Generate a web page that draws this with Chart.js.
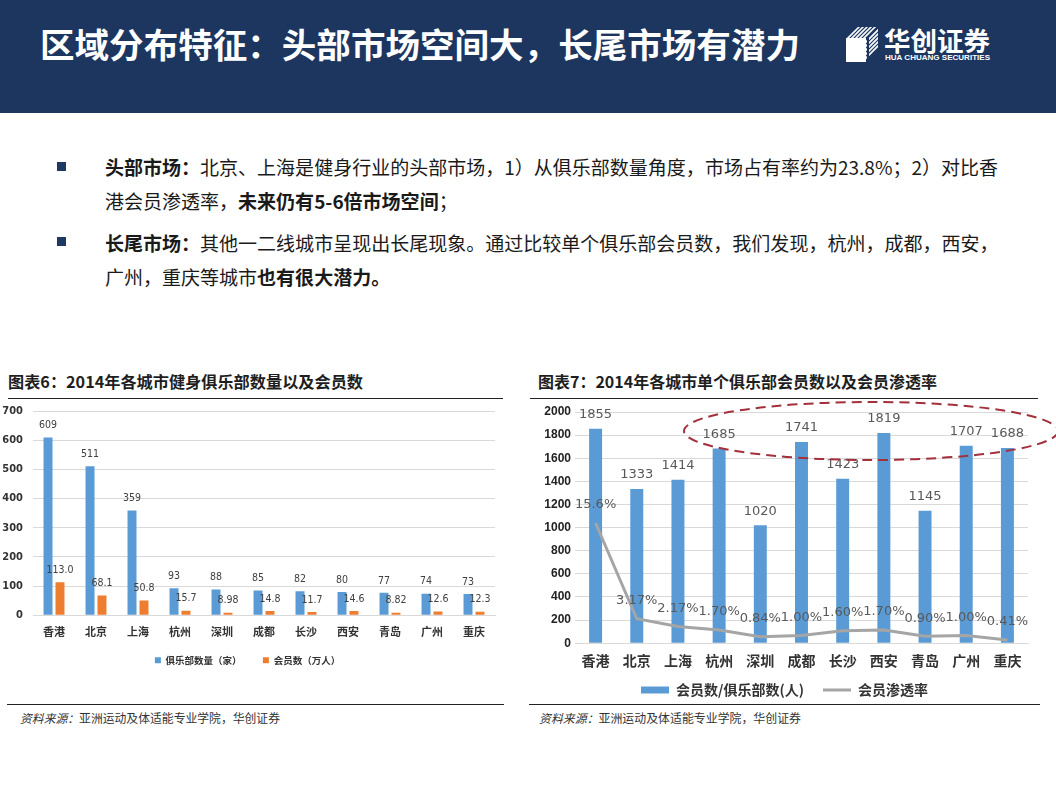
<!DOCTYPE html>
<html><head><meta charset="utf-8">
<script src="https://cdn.jsdelivr.net/npm/chart.js@4/dist/chart.umd.min.js"></script>
<style>
html,body{margin:0;padding:0;width:1056px;height:792px;overflow:hidden;background:#fff;font-family:"Noto Sans CJK SC","Noto Sans",sans-serif;}
.abs{position:absolute;white-space:nowrap;}
#header{position:absolute;left:0;top:0;width:1056px;height:113px;background:#1c3660;}
#title{left:40px;top:22px;font-size:34px;font-weight:700;color:#fff;line-height:44px;}
.body{left:105px;font-size:19px;color:#1a1a1a;line-height:24px;}
.body b{font-weight:700;}
.bullet{position:absolute;left:57px;width:9px;height:9px;background:#1f3864;}
.ctitle{font-size:16px;font-weight:700;color:#1e1e1e;line-height:24px;}
.rule{position:absolute;height:1.5px;background:#222;}
.src{font-size:12px;color:#333;line-height:16px;}
.cbox{position:absolute;}
</style>
</head><body>
<div id="header"></div>
<div id="title" class="abs">区域分布特征：头部市场空间大，长尾市场有潜力</div>
<svg class="abs" style="left:0;top:0" width="1056" height="113">
  <defs><clipPath id="cube"><polygon points="846,36 856,27 878,27 878,53 868,62 846,62"/></clipPath></defs>
  <g clip-path="url(#cube)" stroke="#fff" stroke-width="1.6">
    <line x1="840" y1="46" x2="862" y2="24"/><line x1="840" y1="50" x2="866" y2="24"/>
    <line x1="840" y1="54" x2="870" y2="24"/><line x1="840" y1="58" x2="874" y2="24"/>
    <line x1="840" y1="62" x2="878" y2="24"/><line x1="844" y1="64" x2="882" y2="26"/>
    <line x1="848" y1="64" x2="882" y2="30"/><line x1="852" y1="64" x2="882" y2="34"/>
    <line x1="856" y1="64" x2="882" y2="38"/><line x1="860" y1="64" x2="882" y2="42"/>
  </g>
  <rect x="846" y="38" width="20" height="24" fill="#fff"/>
  <line x1="868" y1="38" x2="868" y2="62" stroke="#1c3660" stroke-width="2"/>
</svg>
<div id="logo1" class="abs" style="left:884px;top:22px;font-size:26px;font-weight:700;color:#fff;line-height:36px;">华创证券</div>
<div id="logo2" class="abs" style="left:885px;top:53px;font-size:8px;font-weight:700;color:#fff;line-height:10px;font-family:'Liberation Sans',sans-serif;">HUA CHUANG SECURITIES</div>

<div class="bullet" style="top:162px"></div>
<div class="bullet" style="top:237px"></div>
<div id="l1" class="abs body" style="top:155px"><b>头部市场：</b>北京、上海是健身行业的头部市场，1）从俱乐部数量角度，市场占有率约为23.8%；2）对比香</div>
<div id="l2" class="abs body" style="top:189px">港会员渗透率，<b>未来仍有5-6倍市场空间</b>；</div>
<div id="l3" class="abs body" style="top:231px"><b>长尾市场：</b>其他一二线城市呈现出长尾现象。通过比较单个俱乐部会员数，我们发现，杭州，成都，西安，</div>
<div id="l4" class="abs body" style="top:265px">广州，重庆等城市<b>也有很大潜力。</b></div>

<div id="t1" class="abs ctitle" style="left:8px;top:369px">图表6：2014年各城市健身俱乐部数量以及会员数</div>
<div id="t2" class="abs ctitle" style="left:538px;top:369px">图表7：2014年各城市单个俱乐部会员数以及会员渗透率</div>
<div class="rule" style="left:8px;width:495px;top:397.5px"></div>
<div class="rule" style="left:530px;width:508px;top:397.5px"></div>
<div class="rule" style="left:7px;width:497px;top:703.5px"></div>
<div class="rule" style="left:529px;width:511px;top:703.5px"></div>
<div id="s1" class="abs src" style="left:20px;top:710px"><i>资料来源：</i>亚洲运动及体适能专业学院，华创证券</div>
<div id="s2" class="abs src" style="left:539px;top:710px"><i>资料来源：</i>亚洲运动及体适能专业学院，华创证券</div>

<div class="cbox" style="left:0;top:400px;width:505px;height:275px"><canvas id="c1"></canvas></div>
<div class="cbox" style="left:541px;top:400px;width:528px;height:307px"><canvas id="c2"></canvas></div>

<svg class="abs" style="left:0;top:0;pointer-events:none" width="1056" height="792">
  <ellipse cx="871" cy="431" rx="187" ry="29" fill="none" stroke="#a3303a" stroke-width="2" stroke-dasharray="10 6"/>
</svg>

<script>
// ---- data ----
const cities = ['香港','北京','上海','杭州','深圳','成都','长沙','西安','青岛','广州','重庆'];
const clubCount = [609, 511, 359, 93, 88, 85, 82, 80, 77, 74, 73];
const memberCount = [113.0, 68.1, 50.8, 15.7, 8.98, 14.8, 11.7, 14.6, 8.82, 12.6, 12.3];
const membersPerClub = [1855, 1333, 1414, 1685, 1020, 1741, 1423, 1819, 1145, 1707, 1688];
const penetrationRate = [15.6, 3.17, 2.17, 1.70, 0.84, 1.00, 1.60, 1.70, 0.90, 1.00, 0.41];
const leftTicks = [0, 100, 200, 300, 400, 500, 600, 700];
const rightTicks = [0, 200, 400, 600, 800, 1000, 1200, 1400, 1600, 1800, 2000];

function fmtMember(v){ return Number.isInteger(v) ? v.toFixed(1) : String(v); }
function fmtRate(v){ return (v >= 10 ? v.toFixed(1) : v.toFixed(2)) + '%'; }

function valueLabels(sets){
  return {
    id:'valueLabels',
    afterDatasetsDraw(chart){
      const ctx = chart.ctx;
      chart.data.datasets.forEach((ds, i) => {
        const cfg = sets[i]; if (!cfg) return;
        const meta = chart.getDatasetMeta(i);
        ctx.save();
        ctx.font = cfg.font; ctx.fillStyle = cfg.color;
        ctx.textAlign = 'center'; ctx.textBaseline = 'middle';
        meta.data.forEach((el, j) => ctx.fillText(cfg.format(ds.data[j]), el.x, el.y - cfg.offset));
        ctx.restore();
      });
    }
  };
}

const cjk = '"Noto Sans CJK SC", "Noto Sans", sans-serif';
const narrow = '"Liberation Sans Narrow", "DejaVu Sans Condensed", "Liberation Sans", sans-serif';

const chart1 = new Chart(document.getElementById('c1'), {
  type: 'bar',
  data: {
    labels: cities,
    datasets: [
      { label: '俱乐部数量（家）\u2003\u2002', data: clubCount, backgroundColor: '#5b9bd5', borderWidth: 0, barPercentage: 0.75, categoryPercentage: 0.57 },
      { label: '会员数（万人）', data: memberCount, backgroundColor: '#ed7d31', borderWidth: 0, barPercentage: 0.75, categoryPercentage: 0.57 }
    ]
  },
  options: {
    responsive: true, maintainAspectRatio: false, animation: false,
    layout: { padding: { top: 11, right: 10, left: 0, bottom: 0 } },
    scales: {
      x: {
        grid: { display: false, drawTicks: false },
        border: { display: true, color: '#d9d9d9' },
        ticks: { padding: 10, color: '#333', font: { family: cjk, size: 11, weight: 'bold' } }
      },
      y: {
        min: 0, max: 700,
        afterBuildTicks: s => { s.ticks = leftTicks.map(v => ({ value: v })); },
        afterFit: s => { s.width = 33; s.paddingTop = 0; s.paddingBottom = 0; },
        grid: { color: '#d9d9d9', drawTicks: false },
        border: { display: false },
        ticks: { padding: 10, color: '#333', font: { family: narrow, size: 11, weight: 'bold' }, callback: v => String(v) }
      }
    },
    plugins: {
      legend: { position: 'bottom', labels: { boxWidth: 6, boxHeight: 6, padding: 7, color: '#333', font: { family: cjk, size: 9.5, weight: 'bold' } } },
      tooltip: { enabled: false }
    }
  },
  plugins: [valueLabels([
    { font: '10.5px ' + narrow, color: '#404040', offset: 12, format: v => String(v) },
    { font: '10.5px ' + narrow, color: '#404040', offset: 12, format: fmtMember }
  ])]
});

const chart2 = new Chart(document.getElementById('c2'), {
  type: 'bar',
  data: {
    labels: cities,
    datasets: [
      { type: 'bar', label: '会员数/俱乐部数(人)\u2003', data: membersPerClub, backgroundColor: '#5b9bd5', borderWidth: 0, barPercentage: 0.9, categoryPercentage: 0.35, order: 2, yAxisID: 'y' },
      { type: 'line', label: '会员渗透率', data: penetrationRate, borderColor: '#a5a5a5', backgroundColor: '#a5a5a5', borderWidth: 3, pointRadius: 0, tension: 0, order: 1, yAxisID: 'y1' }
    ]
  },
  options: {
    responsive: true, maintainAspectRatio: false, animation: false,
    layout: { padding: { top: 12, right: 41, left: 0, bottom: 0 } },
    scales: {
      x: {
        grid: { display: false, drawTicks: false },
        border: { display: true, color: '#d9d9d9' },
        ticks: { padding: 9, color: '#333', font: { family: cjk, size: 14, weight: 'bold' } }
      },
      y: {
        min: 0, max: 2000,
        afterBuildTicks: s => { s.ticks = rightTicks.map(v => ({ value: v })); },
        afterFit: s => { s.width = 34; },
        grid: { color: '#d9d9d9', drawTicks: false },
        border: { display: false },
        ticks: { padding: 4, color: '#222', font: { family: '"Liberation Sans", Arial, sans-serif', size: 12, weight: 'bold' }, callback: v => String(v) }
      },
      y1: { display: false, min: 0, max: 30 }
    },
    plugins: {
      legend: {
        position: 'bottom',
        labels: {
          usePointStyle: true, pointStyleWidth: 28, boxHeight: 7, padding: 5, color: '#333',
          font: { family: cjk, size: 14, weight: 'bold' },
          generateLabels(chart) {
            const items = Chart.defaults.plugins.legend.labels.generateLabels(chart);
            items.sort((a, b) => a.datasetIndex - b.datasetIndex);
            items.forEach(it => {
              if (it.datasetIndex === 0) { it.pointStyle = 'rect'; it.lineWidth = 0; }
              else { it.pointStyle = 'line'; it.lineWidth = 3; it.strokeStyle = '#a5a5a5'; }
            });
            return items;
          }
        }
      },
      tooltip: { enabled: false }
    }
  },
  plugins: [valueLabels([
    { font: '13px "DejaVu Sans", sans-serif', color: '#595959', offset: 14, format: v => String(v) },
    { font: '13px "DejaVu Sans", sans-serif', color: '#595959', offset: 18, format: fmtRate }
  ])]
});

function fit(el, target){
  el.style.transform = 'none';
  const w = el.getBoundingClientRect().width;
  el.style.transformOrigin = 'left center';
  el.style.transform = 'scaleX(' + (target / w) + ')';
  return target / w;
}
function layoutText(){
  fit(document.getElementById('title'), 760);
  fit(document.getElementById('logo1'), 106);
  fit(document.getElementById('logo2'), 105);
  const l1 = document.getElementById('l1');
  l1.style.transform = 'none';
  const k = 893 / l1.getBoundingClientRect().width;
  ['l1','l2','l3','l4'].forEach(id => { const e = document.getElementById(id); e.style.transformOrigin = 'left center'; e.style.transform = 'scaleX(' + k + ')'; });
  fit(document.getElementById('t1'), 355);
  fit(document.getElementById('t2'), 399);
  fit(document.getElementById('s1'), 260);
  fit(document.getElementById('s2'), 262);
}
layoutText();
if (document.fonts && document.fonts.ready) document.fonts.ready.then(layoutText);
</script>
</body></html>
